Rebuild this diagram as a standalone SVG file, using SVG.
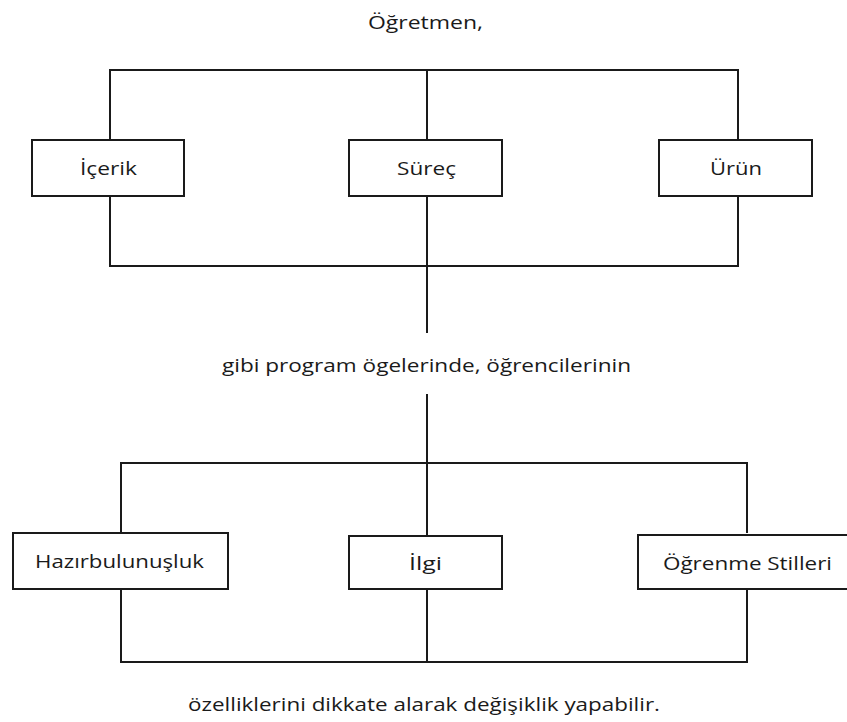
<svg xmlns="http://www.w3.org/2000/svg" width="847" height="722" viewBox="0 0 847 722">
<style>
.bg{fill:#ffffff}
.box{fill:#ffffff;stroke:#1a1a1a;stroke-width:2}
.ln{fill:none;stroke:#1a1a1a;stroke-width:2;stroke-linecap:square}
.t{font-family:"Open Sans","Liberation Sans",sans-serif;font-size:19px;fill:#1a1a1a;text-anchor:middle}
</style>
<rect class="bg" x="0" y="0" width="847" height="722"/>
<g id="connectors">
<path class="ln" d="M110 70 H738 M110 70 V140 M427 70 V140 M738 70 V140"/>
<path class="ln" d="M110 196 V266 M738 196 V266 M427 196 V332 M110 266 H738"/>
<path class="ln" d="M427 395 V463 M121 463 H747 M121 463 V533 M427 463 V536 M747 463 V532"/>
<path class="ln" d="M121 589 V662 M427 589 V662 M747 589 V662 M121 662 H747"/>
</g>
<g id="label-ogretmen"><text class="t" x="425.5" y="29" textLength="115" lengthAdjust="spacingAndGlyphs">Öğretmen,</text></g>
<g id="node-icerik"><rect class="box" x="32" y="140" width="152" height="56"/><text class="t" x="108.5" y="175" textLength="57" lengthAdjust="spacingAndGlyphs">İçerik</text></g>
<g id="node-surec"><rect class="box" x="349" y="140" width="153" height="56"/><text class="t" x="426.5" y="175" textLength="59" lengthAdjust="spacingAndGlyphs">Süreç</text></g>
<g id="node-urun"><rect class="box" x="659" y="140" width="153" height="56"/><text class="t" x="736" y="175" textLength="52" lengthAdjust="spacingAndGlyphs">Ürün</text></g>
<g id="label-middle"><text class="t" x="426.5" y="372" textLength="409" lengthAdjust="spacingAndGlyphs">gibi program ögelerinde, öğrencilerinin</text></g>
<g id="node-hazirbulunusluk"><rect class="box" x="13" y="533" width="215" height="56"/><text class="t" x="119.5" y="568" textLength="169" lengthAdjust="spacingAndGlyphs">Hazırbulunuşluk</text></g>
<g id="node-ilgi"><rect class="box" x="349" y="536" width="153" height="53"/><text class="t" x="425.5" y="570" textLength="33" lengthAdjust="spacingAndGlyphs">İlgi</text></g>
<g id="node-ogrenme-stilleri"><rect class="box" x="638" y="535" width="215" height="54"/><text class="t" x="747.5" y="570" textLength="169" lengthAdjust="spacingAndGlyphs">Öğrenme Stilleri</text></g>
<g id="label-bottom"><text class="t" x="424" y="711" textLength="472" lengthAdjust="spacingAndGlyphs">özelliklerini dikkate alarak değişiklik yapabilir.</text></g>
</svg>
